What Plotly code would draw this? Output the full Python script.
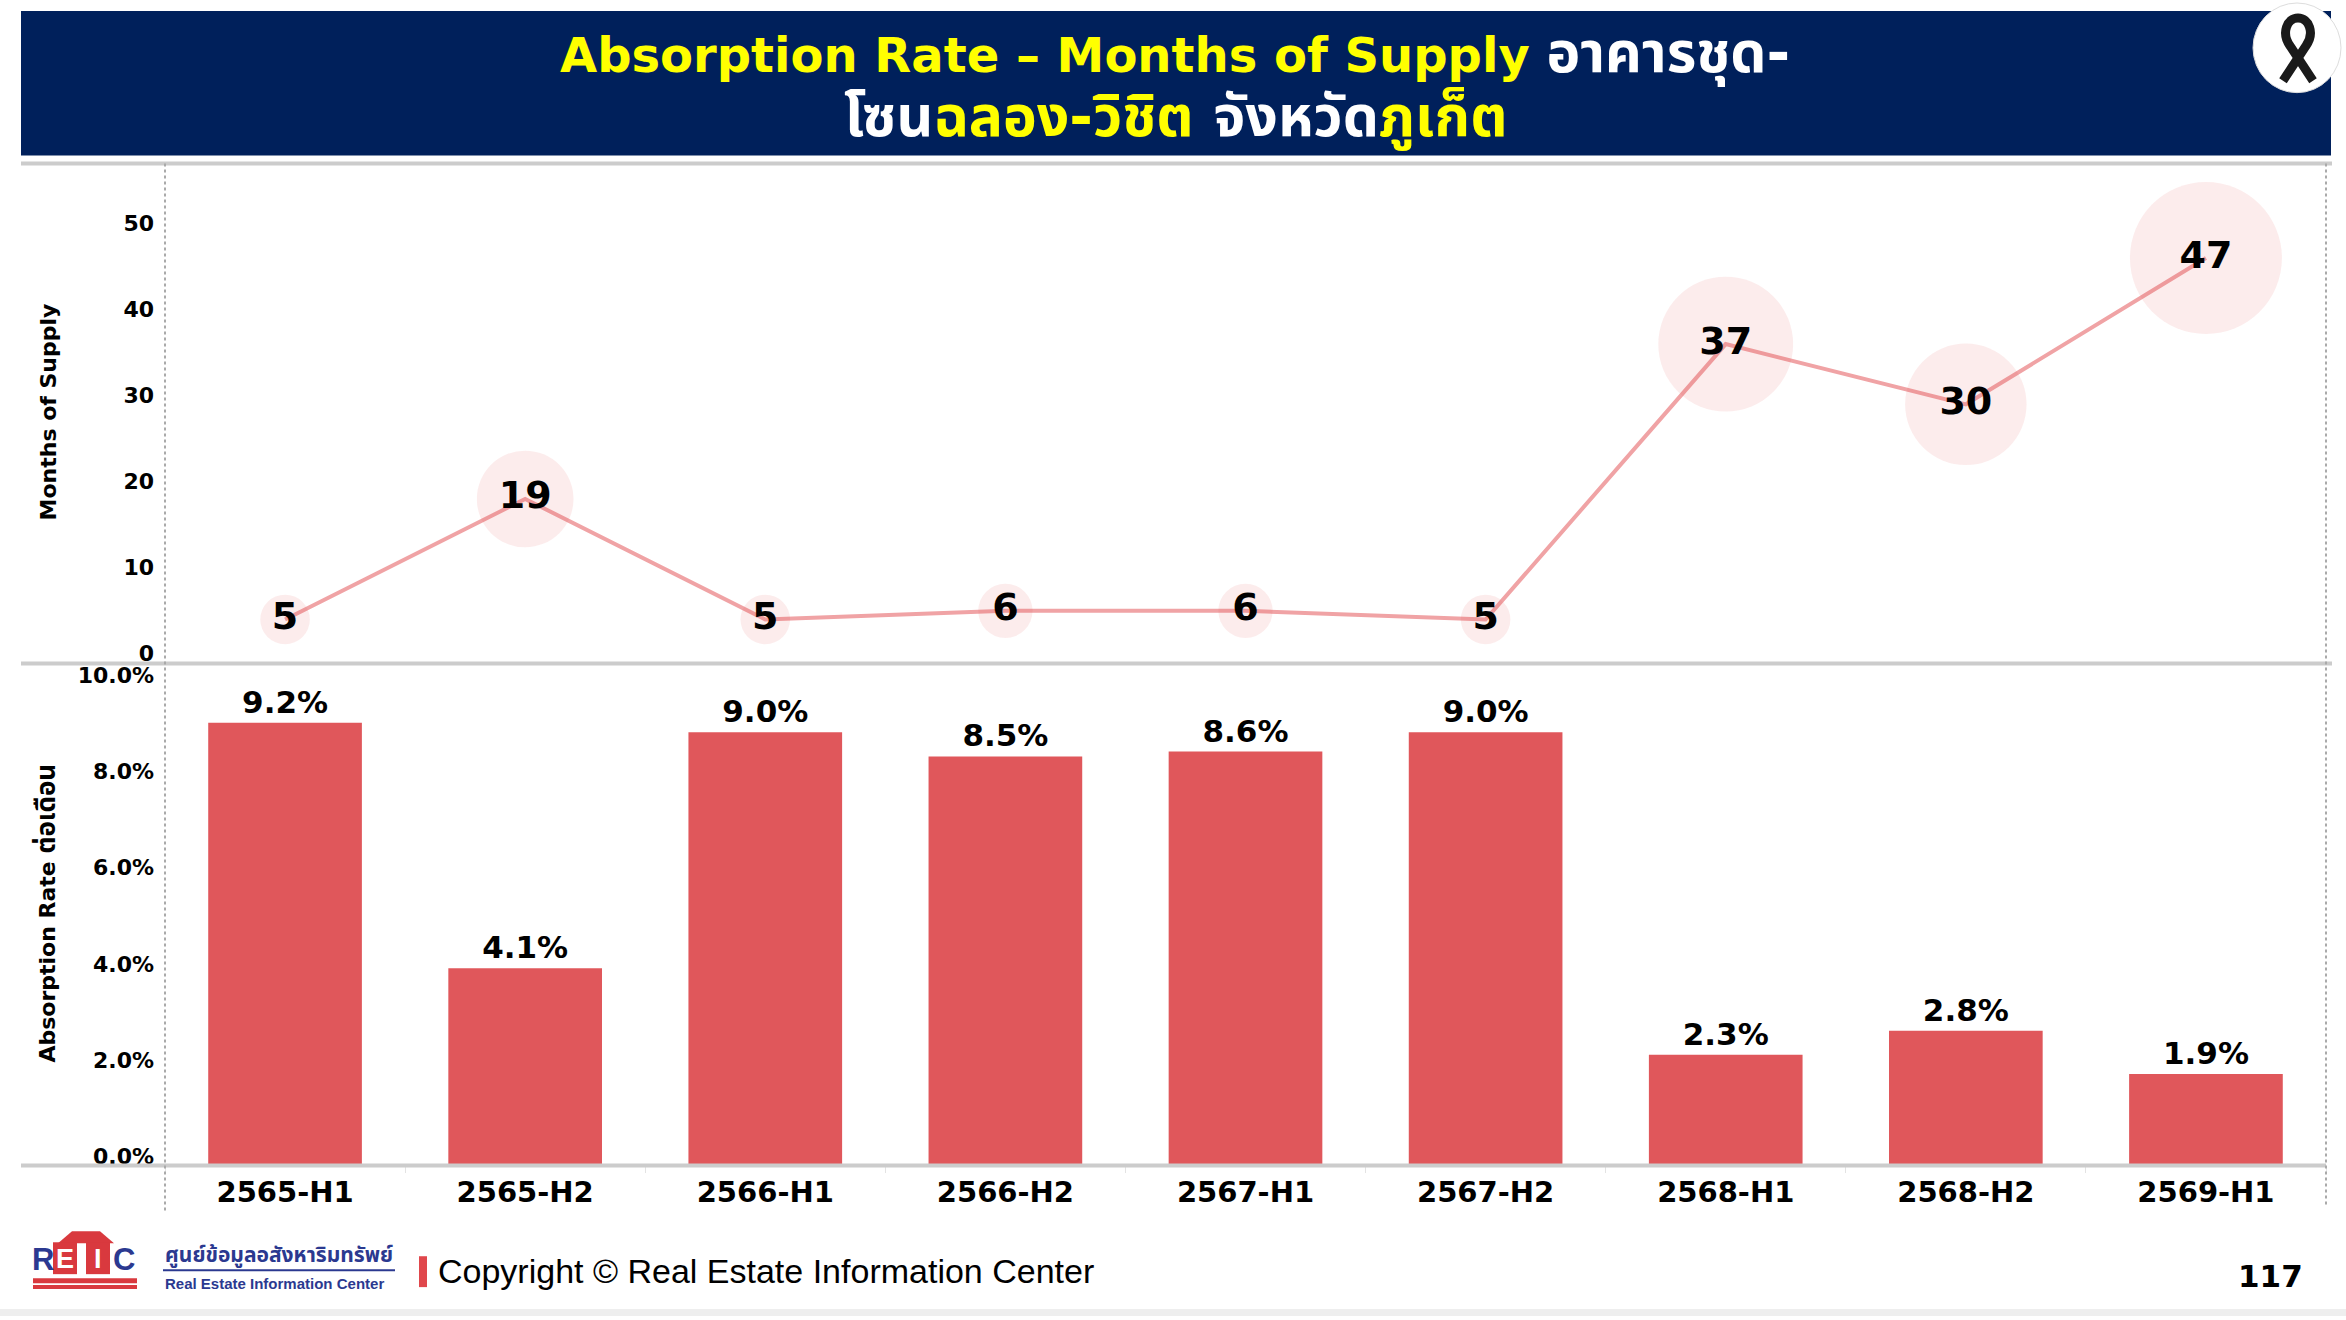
import plotly.graph_objects as go

# data
periods = ["2565-H1", "2565-H2", "2566-H1", "2566-H2", "2567-H1",
           "2567-H2", "2568-H1", "2568-H2", "2569-H1"]
months_of_supply = [5, 19, 5, 6, 6, 5, 37, 30, 47]
absorption_rate = [0.092, 0.041, 0.090, 0.085, 0.086, 0.090, 0.023, 0.028, 0.019]

W, H = 2346, 1320
NAVY = "#00205B"
RED = "#E0575B"
BLUE = "#2B3990"
FONT = "DejaVu Sans, Noto Sans Thai, Noto Sans, sans-serif"


def px(x):
    return x / W


def py(y):
    return 1 - y / H


def rect(x0, y0, x1, y1, color, layer="above"):
    return dict(type="rect", xref="paper", yref="paper", x0=px(x0), x1=px(x1),
                y0=py(y1), y1=py(y0), fillcolor=color, line=dict(width=0), layer=layer)


def hline(x0, x1, y, color="#CCCCCC", width=4, dash="solid"):
    return dict(type="line", xref="paper", yref="paper", x0=px(x0), x1=px(x1),
                y0=py(y), y1=py(y), line=dict(color=color, width=width, dash=dash))


def vline(x, y0, y1, color="#AAAAAA", width=2, dash="dot"):
    return dict(type="line", xref="paper", yref="paper", x0=px(x), x1=px(x),
                y0=py(y0), y1=py(y1), line=dict(color=color, width=width, dash=dash))


def path(points, close=True):
    s = "M " + " L ".join(f"{px(x)},{py(y)}" for x, y in points)
    return s + (" Z" if close else "")


fig = go.Figure()

# months of supply (top)
fig.add_trace(go.Scatter(
    x=periods, y=months_of_supply, xaxis="x", yaxis="y",
    mode="lines+markers+text",
    line=dict(color="#F0A3A5", width=4),
    marker=dict(size=months_of_supply, sizemode="area", sizeref=0.00407,
                color="rgba(228,90,95,0.17)", line=dict(width=0)),
    text=[str(v) for v in months_of_supply], textposition="middle center",
    textfont=dict(family=FONT, size=38, color="black", weight="bold"),
    cliponaxis=False, showlegend=False, hoverinfo="x+y"))

# absorption rate (bottom)
fig.add_trace(go.Bar(
    x=periods, y=absorption_rate, xaxis="x2", yaxis="y2",
    marker=dict(color=RED, line=dict(width=0)),
    texttemplate="%{y:.1%}", textposition="outside",
    textfont=dict(family=FONT, size=31, color="black", weight="bold"),
    cliponaxis=False, showlegend=False))

xdom = [px(165), px(2326)]
tickfont = dict(family=FONT, size=22, color="black", weight="bold")

shapes = [
    rect(21, 10, 2331, 155, NAVY),
    hline(21, 2332, 163),
    hline(21, 2332, 665),
    hline(21, 2326, 1169),
    vline(165, 163, 1215),
    vline(2326, 163, 1210),
    rect(0, 1313, W, H, "#EEEEEE"),
    # ribbon badge
    dict(type="circle", xref="paper", yref="paper", x0=px(2253), x1=px(2341),
         y0=py(92), y1=py(2), fillcolor="white", line=dict(color="#DDDDDD", width=1)),
    dict(type="path", xref="paper", yref="paper",
         path=f"M {px(2283)},{py(80)} L {px(2306)},{py(45)} "
              f"C {px(2315)},{py(32)} {px(2309)},{py(17)} {px(2298)},{py(17)} "
              f"C {px(2287)},{py(17)} {px(2281)},{py(32)} {px(2290)},{py(45)} "
              f"L {px(2313)},{py(80)}",
         line=dict(color="#1A1A1A", width=9)),
    # REIC logo
    dict(type="path", xref="paper", yref="paper",
         path=path([(58, 1247), (72, 1235), (100, 1235), (114, 1247)]),
         fillcolor="#D9393E", line=dict(width=0)),
    rect(53, 1246, 77, 1278, "#D9393E"),
    rect(86, 1246, 110, 1278, "#D9393E"),
    rect(33, 1282, 137, 1287, "#D9393E"),
    rect(33, 1289, 137, 1293, "#D9393E"),
    hline(163, 395, 1274, color=BLUE, width=2),
    rect(419, 1260, 427, 1291, "#E0474C"),
]


def note(text, x, y, size, color="black", xanchor="center", family=FONT, angle=0):
    return dict(text=text, x=px(x), y=py(y), xref="paper", yref="paper",
                xanchor=xanchor, yanchor="middle", showarrow=False, textangle=angle,
                font=dict(family=family, size=size, color=color))


annotations = [
    note("<b><span style='color:#FFFF00'>Absorption Rate – Months of Supply</span>"
         " <span style='font-size:57px'>อาคารชุด-</span></b>", 1175, 52, 48, color="white"),
    note("<b>โซน<span style='color:#FFFF00'>ฉลอง-วิชิต</span> จังหวัด"
         "<span style='color:#FFFF00'>ภูเก็ต</span></b>", 1175, 116, 57, color="white"),
    note("<b>Months of Supply</b>", 48, 413, 22, angle=-90),
    note("<b>Absorption Rate <span style='font-size:26px'>ต่อเดือน</span></b>", 46, 916, 22, angle=-90),
    note("<b>R</b>", 43, 1263, 31, color=BLUE, family="Liberation Sans, sans-serif"),
    note("<b>E</b>", 65, 1263, 27, color="white", family="Liberation Sans, sans-serif"),
    note("<b>I</b>", 98, 1263, 27, color="white", family="Liberation Sans, sans-serif"),
    note("<b>C</b>", 124, 1263, 31, color=BLUE, family="Liberation Sans, sans-serif"),
    note("<b>ศูนย์ข้อมูลอสังหาริมทรัพย์</b>", 163, 1259, 21, color=BLUE, xanchor="left"),
    note("<b>Real Estate Information Center</b>", 163, 1287, 15, color=BLUE, xanchor="left",
         family="Liberation Sans, sans-serif"),
    note("Copyright © Real Estate Information Center", 436, 1275, 34, xanchor="left",
         family="Liberation Sans, sans-serif"),
    note("<b>117</b>", 2270, 1280, 31),
]

fig.update_layout(
    width=W, height=H, margin=dict(l=0, r=0, t=0, b=0),
    paper_bgcolor="white", plot_bgcolor="white",
    bargap=0.36,
    xaxis=dict(domain=xdom, anchor="y", type="category", categoryorder="array",
               categoryarray=periods, range=[-0.5, 8.5], showticklabels=False,
               showgrid=False, zeroline=False, showline=False, ticks=""),
    yaxis=dict(domain=[py(664), py(163)], anchor="x", range=[0, 58],
               tickvals=[0, 10, 20, 30, 40, 50], showgrid=False, zeroline=False,
               showline=False, ticks="", tickfont=tickfont, ticklabelstandoff=10,
               ticklabelshift=-9),
    xaxis2=dict(domain=xdom, anchor="y2", type="category", categoryorder="array",
                categoryarray=periods, range=[-0.5, 8.5], showgrid=False,
                zeroline=False, showline=False, ticks="outside", tickson="boundaries",
                ticklen=6, tickcolor="#E3E3E3", tickwidth=1, ticklabelstandoff=6,
                tickfont=dict(family=FONT, size=29, color="black", weight="bold")),
    yaxis2=dict(domain=[py(1169), py(665)], anchor="x2", range=[0, 0.1043],
                tickvals=[0, 0.02, 0.04, 0.06, 0.08, 0.10], tickformat=".1%",
                showgrid=False, zeroline=False, showline=False, ticks="",
                tickfont=tickfont, ticklabelstandoff=10, ticklabelshift=-9),
    shapes=shapes,
    annotations=annotations,
)

fig.write_html("out.html", config={"displayModeBar": False},
               post_script="document.body.style.margin='0';document.body.style.overflow='hidden';")
